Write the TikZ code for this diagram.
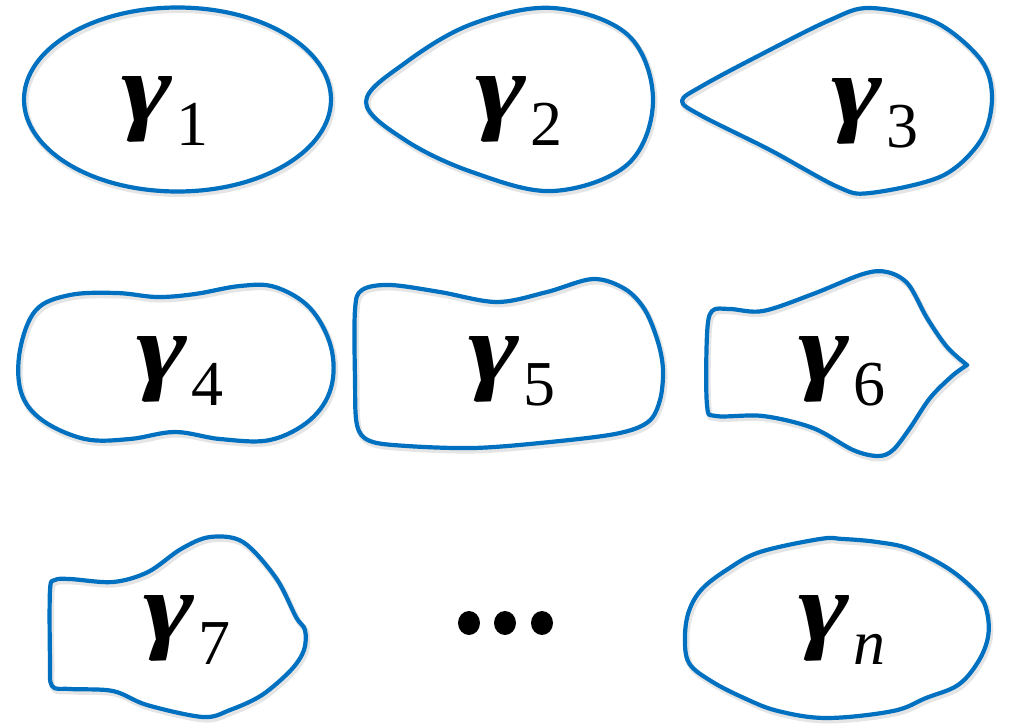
\documentclass[tikz,border=0pt]{standalone}
\usepackage{fontspec}
\newfontfamily\gfont{Liberation Serif}
\definecolor{cblue}{RGB}{0,112,192}
\newcommand{\glabel}[1]{\scalebox{1.25}[1]{\gfont\bfseries\itshape\fontsize{98}{100}\selectfont γ}\kern4pt\raisebox{-24pt}{\gfont\fontsize{64}{66}\selectfont #1}}
\tikzset{
  outline/.style={draw=cblue, line width=4.2pt, line join=round, line cap=round,
    preaction={draw=black!10, line width=6pt, transform canvas={shift={(1.5pt,-2.5pt)}}}},
  lbl/.style={inner sep=0pt, anchor=base west},
  dotmark/.style={fill=black, draw=none}
}
\begin{document}
\begin{tikzpicture}[x=1pt,y=-1pt]
\useasboundingbox (0,0) rectangle (1010,728);

% gamma 1: ellipse
\draw[outline] (177.5,99.5) ellipse [x radius=153.5, y radius=92];
\node[lbl] (g1) at (121,121) {\glabel{1}};

% gamma 2: round teardrop
\draw[outline] plot[smooth cycle, tension=0.6] coordinates {
  (366,102) (405,63) (472,24) (553,8) (628,35) (653,100) (628,164) (553,191) (472,172) (405,140)};
\node[lbl] (g2) at (475,121) {\glabel{2}};

% gamma 3: pointed teardrop
\draw[outline] plot[smooth cycle, tension=0.55] coordinates {
  (682,101) (702,86) (760,55) (830,20) (870,8) (935,22) (981,60) (992,98) (981,140) (942,176) (870,193) (838,187) (770,150) (702,116)};
\node[lbl] (g3) at (831,123) {\glabel{3}};

% gamma 4: peanut
\draw[outline] plot[smooth cycle, tension=0.6] coordinates {
  (20,350) (36,310) (70,295) (117,293) (157,297) (195,294) (240,286) (275,287) (310,308) (331,347)
  (331,388) (310,420) (270,440) (220,439) (175,432) (130,439) (85,439) (42,420) (21,392)};
\node[lbl] (g4) at (136,381) {\glabel{4}};

% gamma 5: rounded box
\draw[outline] plot[smooth cycle, tension=0.55] coordinates {
  (355,310) (362,290) (390,285) (440,292) (497,302) (547,292) (593,279) (625,289) (645,310) (658,342)
  (663,370) (660,400) (648,422) (615,434) (540,443) (473,448) (407,446) (370,441) (357,425) (355,380)};
\node[lbl] (g5) at (468,381) {\glabel{5}};

% gamma 6: arrow-like with cusp
\draw[outline] plot[smooth, tension=0.55] coordinates {
  (967,365) (952,376) (930,398) (910,428) (893,450) (878,456) (853,450) (813,428) (763,416) (716,416)
  (707,405) (707,335) (712,311) (730,309) (763,311) (813,294) (863,274) (887,272) (908,284) (927,318)
  (947,347) (967,365)};
\node[lbl] (g6) at (798,381) {\glabel{6}};

% gamma 7
\draw[outline] plot[smooth cycle, tension=0.55] coordinates {
  (50,590) (55,580) (70,579) (113,582) (148,572) (181,549) (210,537) (243,542) (276,578) (296,617)
  (305,630) (304,650) (291,670) (262,695) (230,710) (203,717) (147,705) (113,691) (70,689) (52,686) (50,660)};
\node[lbl] (g7) at (143,640) {\glabel{7}};

% dots
\path[dotmark] (469,623) ellipse [x radius=11, y radius=12];
\path[dotmark] (505,623) ellipse [x radius=11, y radius=12];
\path[dotmark] (542,623) ellipse [x radius=11, y radius=12];

% gamma n: wobbly oval
\draw[outline] plot[smooth cycle, tension=0.6] coordinates {
  (820,539) (760,552) (728,569) (702,589) (689,611) (685,637) (689,663) (711,681) (744,698) (778,711)
  (827,718) (893,711) (926,698) (958,685) (978,662) (988,637) (987,612) (978,594) (949,569) (910,549)
  (877,542) (843,539)};
\node[lbl] (gn) at (798,640) {\glabel{\itshape n}};
\end{tikzpicture}
\end{document}
